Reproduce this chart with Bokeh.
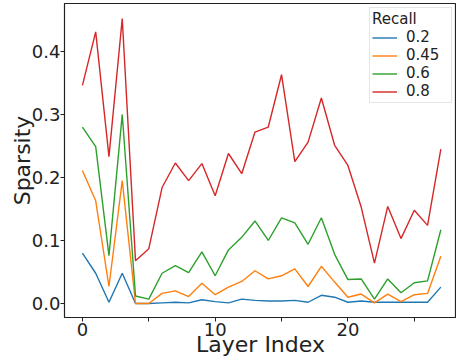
from bokeh.plotting import figure
from bokeh.models import FixedTicker, Range1d, Legend, LegendItem
from bokeh.embed import file_html
from bokeh.resources import INLINE

layers = list(range(28))
recall_labels = ["0.2", "0.45", "0.6", "0.8"]
colors = ["#1f77b4", "#ff7f0e", "#2ca02c", "#d62728"]

r02 = [0.080, 0.048, 0.002, 0.048, 0.000, 0.000, 0.001, 0.002, 0.001, 0.006,
       0.003, 0.001, 0.007, 0.005, 0.004, 0.004, 0.005, 0.002, 0.013, 0.010,
       0.002, 0.004, 0.002, 0.002, 0.002, 0.002, 0.002, 0.026]
r045 = [0.211, 0.163, 0.027, 0.195, 0.000, 0.000, 0.016, 0.020, 0.011, 0.032,
        0.014, 0.026, 0.035, 0.052, 0.039, 0.044, 0.055, 0.027, 0.059, 0.034,
        0.010, 0.015, 0.001, 0.015, 0.003, 0.014, 0.016, 0.075]
r06 = [0.280, 0.249, 0.076, 0.300, 0.012, 0.007, 0.048, 0.060, 0.049, 0.082,
       0.044, 0.085, 0.105, 0.131, 0.100, 0.136, 0.128, 0.094, 0.136, 0.078,
       0.038, 0.039, 0.007, 0.039, 0.017, 0.033, 0.036, 0.117]
r08 = [0.346, 0.431, 0.233, 0.452, 0.068, 0.087, 0.184, 0.223, 0.195, 0.222,
       0.171, 0.238, 0.206, 0.272, 0.280, 0.363, 0.225, 0.256, 0.326, 0.251,
       0.219, 0.153, 0.064, 0.154, 0.103, 0.148, 0.124, 0.245]
series = [r02, r045, r06, r08]
x_ticks = [0, 10, 20]
x_minor_ticks = [5, 15, 25]
y_ticks = [0.0, 0.1, 0.2, 0.3, 0.4]

FONT = "DejaVu Sans"
TXT = "#222222"

p = figure(width=456, height=360, output_backend="svg", toolbar_location=None,
           x_range=Range1d(-1.35, 28.18), y_range=Range1d(-0.0222, 0.476),
           min_border_left=64, min_border_right=0, min_border_top=3,
           min_border_bottom=43)
p.grid.visible = False
p.outline_line_color = TXT
p.outline_line_width = 1.2
p.background_fill_color = "white"
p.border_fill_color = "white"

items = []
for lab, col, ys in zip(recall_labels, colors, series):
    r = p.line(layers, ys, line_color=col, line_width=1.4)
    items.append(LegendItem(label=lab, renderers=[r]))

leg = Legend(items=items, location="top_right", title="Recall")
leg.title_text_font = FONT
leg.title_text_font_size = "15px"
leg.title_text_font_style = "normal"
leg.title_text_color = TXT
leg.title_standoff = 0
leg.label_text_font = FONT
leg.label_text_font_size = "15px"
leg.label_text_color = TXT
leg.label_height = 15
leg.label_width = 43
leg.glyph_height = 15
leg.glyph_width = 25
leg.label_standoff = 9
leg.spacing = 0
leg.padding = 2
leg.margin = 4
leg.border_line_color = "#cccccc"
leg.border_line_width = 1
leg.background_fill_alpha = 0.9
p.add_layout(leg)

xa = p.xaxis[0]
xa.ticker = FixedTicker(ticks=x_ticks, minor_ticks=x_minor_ticks)
xa.axis_label = "Layer Index"
xa.major_label_standoff = 1
xa.axis_label_standoff = -7
ya = p.yaxis[0]
ya.ticker = FixedTicker(ticks=y_ticks)
ya.axis_label = "Sparsity"
ya.major_label_standoff = 0
ya.axis_label_standoff = -6
for ax in (xa, ya):
    ax.axis_label_text_font = FONT
    ax.axis_label_text_font_size = "22px"
    ax.axis_label_text_font_style = "normal"
    ax.axis_label_text_color = TXT
    ax.major_label_text_font = FONT
    ax.major_label_text_font_size = "18px"
    ax.major_label_text_color = TXT
    ax.axis_line_color = TXT
    ax.major_tick_line_color = TXT
    ax.minor_tick_line_color = TXT
    ax.major_tick_out = 4
    ax.major_tick_in = 0
    ax.minor_tick_out = 4
    ax.minor_tick_in = 0
ya.minor_tick_line_color = None
ya.major_label_overrides = {t: f"{t:.1f}" for t in y_ticks}

open("out.html", "w").write(file_html(p, INLINE))
